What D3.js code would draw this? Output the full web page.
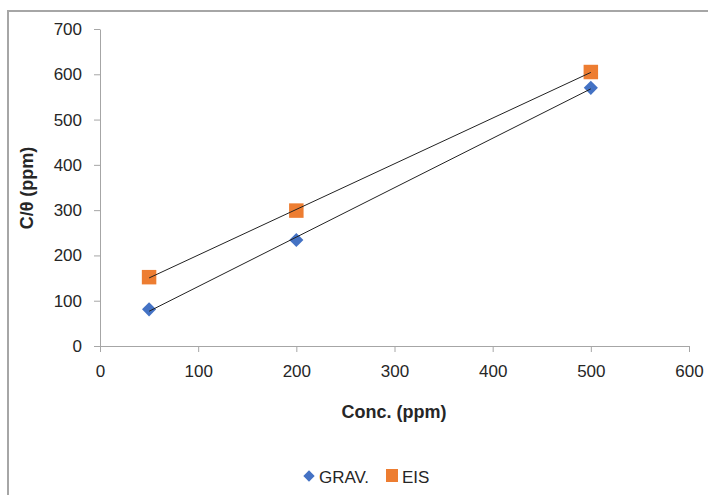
<!DOCTYPE html>
<html>
<head>
<meta charset="utf-8">
<script src="https://cdn.jsdelivr.net/npm/d3@7"></script>
<style>
  body { margin: 0; background: #fff; }
  text { font-family: "Liberation Sans", Arial, sans-serif; fill: #262626; }
</style>
</head>
<body>
<svg id="chart" width="708" height="495"></svg>
<script>
// concentrations (x) and C/theta values (y)
let conc = [50, 200, 500];
let grav = [81, 234, 570];
let eis = [152, 299, 605];
let xTicks = [0, 100, 200, 300, 400, 500, 600];
let yTicks = [0, 100, 200, 300, 400, 500, 600, 700];

let svg = d3.select('#chart');

let x = d3.scaleLinear().domain([0, 600]).range([100, 689]);
let y = d3.scaleLinear().domain([0, 700]).range([346, 29]);

// outer frame (only top and left edges visible)
svg.append('path')
    .attr('d', 'M8,495 L8,11 L708,11')
    .attr('fill', 'none')
    .attr('stroke', '#a6a6a6')
    .attr('stroke-width', 2);

// axes
let xAxis = svg.append('g')
    .attr('transform', 'translate(0,' + y(0) + ')')
    .call(d3.axisBottom(x).tickValues(xTicks).tickSize(6).tickPadding(13).tickSizeOuter(0));
let yAxis = svg.append('g')
    .attr('transform', 'translate(' + x(0) + ',0)')
    .call(d3.axisLeft(y).tickValues(yTicks).tickSize(6).tickPadding(12).tickSizeOuter(0));

[xAxis, yAxis].forEach(function(a) {
    a.selectAll('.domain').attr('stroke', '#a6a6a6');
    a.selectAll('.tick line').attr('stroke', '#a6a6a6');
    a.selectAll('.tick text')
        .style('font-size', '17px')
        .attr('fill', '#262626')
        .style('font-family', '"Liberation Sans", Arial, sans-serif');
});

// trend lines (least squares fit of each series)
function fit(xs, ys) {
    let mx = d3.mean(xs), my = d3.mean(ys);
    let num = d3.sum(xs, function(v, i) { return (v - mx) * (ys[i] - my); });
    let den = d3.sum(xs, function(v) { return (v - mx) * (v - mx); });
    let b = num / den;
    return function(v) { return my + b * (v - mx); };
}

let series = [
    { name: 'GRAV.', vals: grav, color: '#4472c4', size: 100, rot: 45 },
    { name: 'EIS', vals: eis, color: '#ed7d31', size: 210, rot: 0 }
];

// markers
series.forEach(function(s) {
    svg.append('g')
        .selectAll('path')
        .data(conc)
        .join('path')
        .attr('d', d3.symbol().type(d3.symbolSquare).size(s.size))
        .attr('transform', function(d, i) {
            return 'translate(' + x(d) + ',' + y(s.vals[i]) + ') rotate(' + s.rot + ')';
        })
        .attr('fill', s.color);
});

// trend lines drawn over the markers
series.forEach(function(s) {
    let f = fit(conc, s.vals);
    let ends = [d3.min(conc), d3.max(conc)];
    svg.append('line')
        .attr('x1', x(ends[0])).attr('y1', y(f(ends[0])))
        .attr('x2', x(ends[1])).attr('y2', y(f(ends[1])))
        .attr('stroke', '#222')
        .attr('stroke-width', 1);
});

// axis titles
svg.append('text')
    .attr('x', 394).attr('y', 418)
    .attr('text-anchor', 'middle')
    .style('font-size', '18px').style('font-weight', 'bold')
    .text('Conc. (ppm)');
svg.append('text')
    .attr('transform', 'translate(33,188) rotate(-90)')
    .attr('text-anchor', 'middle')
    .style('font-size', '18px').style('font-weight', 'bold')
    .text('C/θ (ppm)');

// legend
let legend = svg.append('g');
legend.append('path')
    .attr('d', d3.symbol().type(d3.symbolSquare).size(64))
    .attr('transform', 'translate(309,476) rotate(45)')
    .attr('fill', '#4472c4');
legend.append('text')
    .attr('x', 319).attr('y', 483)
    .style('font-size', '17px')
    .text('GRAV.');
legend.append('rect')
    .attr('x', 386).attr('y', 469).attr('width', 12).attr('height', 13)
    .attr('fill', '#ed7d31');
legend.append('text')
    .attr('x', 402).attr('y', 483)
    .style('font-size', '17px')
    .text('EIS');
</script>
</body>
</html>
